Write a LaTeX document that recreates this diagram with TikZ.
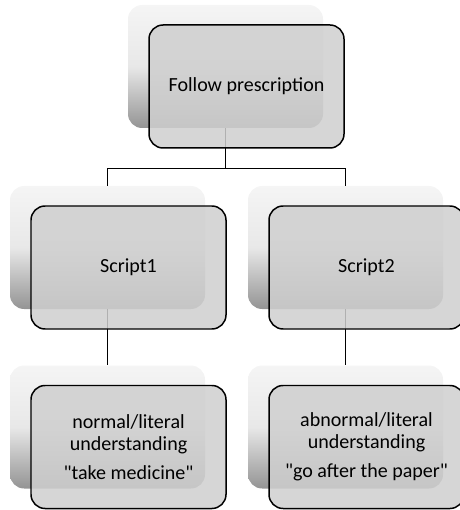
\documentclass[tikz,border=0pt]{standalone}
\usepackage{fontspec}
\setmainfont{Carlito}[Ligatures=TeXOff]
\usetikzlibrary{positioning,calc}

\begin{document}
\begin{tikzpicture}[
    back/.style={
      rectangle,
      rounded corners=8pt,
      top color=black!4,
      bottom color=black!42,
      middle color=black!9,
      minimum width=3.9cm,
      minimum height=2.46cm,
      inner sep=0pt
    },
    front/.style={
      rectangle,
      rounded corners=8pt,
      draw=black,
      line width=0.85pt,
      fill=black!19,
      fill opacity=0.85,
      text opacity=1,
      minimum width=3.9cm,
      minimum height=2.46cm,
      align=center,
      font=\fontsize{11.4}{12.6}\selectfont
    },
    link/.style={draw=black, line width=0.75pt}
  ]

  \useasboundingbox (0,0) rectangle (9.18,-10.2);

  % shadow boxes behind
  \node[back] (rootb) at (4.51,-1.33) {};
  \node[back] (s1b) at (2.15,-4.95) {};
  \node[back] (s2b) at (6.91,-4.95) {};
  \node[back] (u1b) at (2.15,-8.54) {};
  \node[back] (u2b) at (6.91,-8.54) {};

  % tree lines
  \coordinate (bus) at ($(rootb.south)+(0,-0.8)$);
  \draw[link] (rootb.south) -- (bus);
  \draw[link] (bus) -| (s1b.north);
  \draw[link] (bus) -| (s2b.north);
  \draw[link] (s1b.south) -- (u1b.north);
  \draw[link] (s2b.south) -- (u2b.north);

  % front boxes
  \node[front] (root) at ($(rootb)+(0.42,-0.4)$) {Follow prescription};
  \node[front] (s1) at ($(s1b)+(0.42,-0.4)$) {Script1};
  \node[front] (s2) at ($(s2b)+(0.42,-0.4)$) {Script2};
  \node[front] (u1) at ($(u1b)+(0.42,-0.4)$) {normal/literal\\understanding\\[4pt]"take medicine"};
  \node[front] (u2) at ($(u2b)+(0.42,-0.4)$) {abnormal/literal\\understanding\\[4pt]"go after the paper"};

\end{tikzpicture}
\end{document}
